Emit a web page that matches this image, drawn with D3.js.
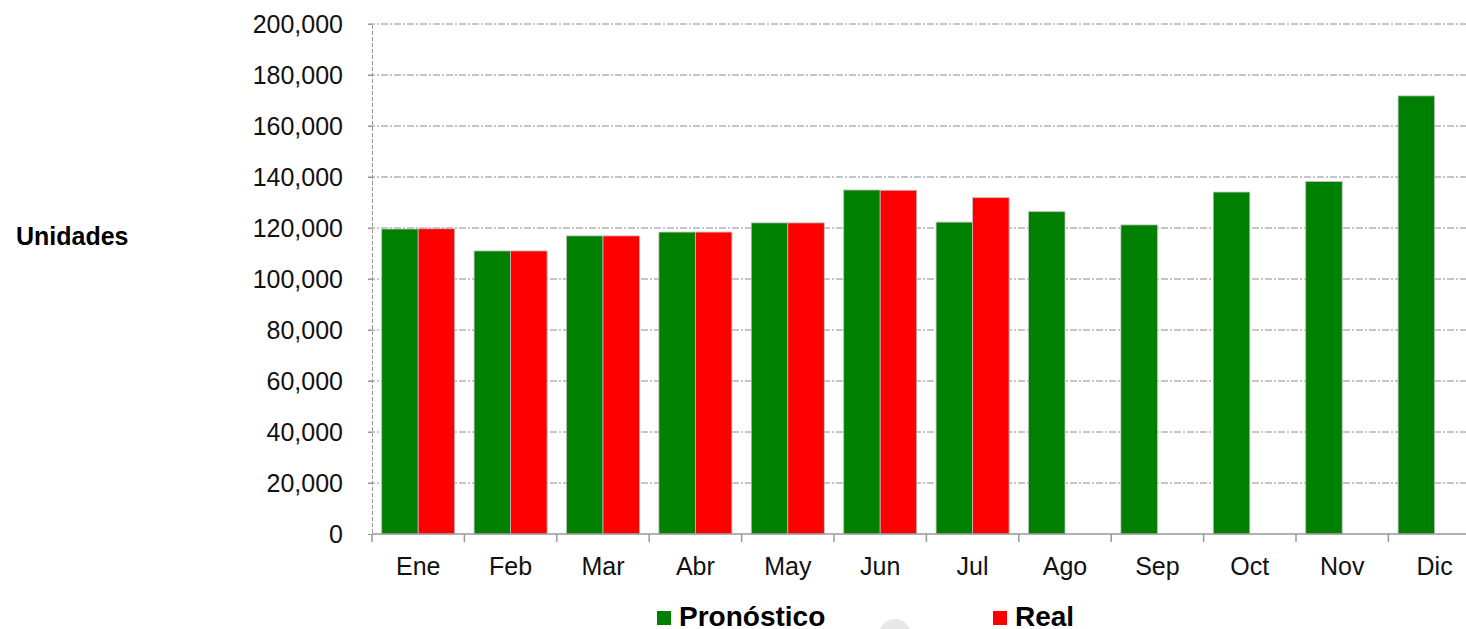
<!DOCTYPE html>
<html>
<head>
<meta charset="utf-8">
<script src="https://cdn.jsdelivr.net/npm/d3@7"></script>
<style>
  body { margin: 0; background: #fff; }
  svg { display: block; }
</style>
</head>
<body>
<div id="grafico"></div>
<script>
const meses = ['Ene', 'Feb', 'Mar', 'Abr', 'May', 'Jun', 'Jul', 'Ago', 'Sep', 'Oct', 'Nov', 'Dic'];
const pronostico = [119600, 111000, 116900, 118400, 122000, 134900, 122300, 126400, 121200, 134100, 138200, 171800];
const real = [119700, 111000, 116900, 118400, 122000, 134800, 131900, null, null, null, null, null];
const series = ['Pronóstico', 'Real'];
const colores = ['#008000', '#ff0000'];
const ticksY = [0, 20000, 40000, 60000, 80000, 100000, 120000, 140000, 160000, 180000, 200000];

const width = 1466, height = 629;
const x0 = 372, paso = 92.4;
const fuente = '"Liberation Sans", Arial, sans-serif';

const svg = d3.select('#grafico').append('svg')
  .attr('width', width)
  .attr('height', height);

const x = d3.scaleBand()
  .domain(meses)
  .range([x0, x0 + paso * meses.length])
  .paddingInner(0.21)
  .paddingOuter(0.105);

const xs = d3.scaleBand()
  .domain(series)
  .range([0, x.bandwidth()]);

const y = d3.scaleLinear()
  .domain([0, 200000])
  .range([534, 24]);

// rejilla
svg.append('g')
  .selectAll('line')
  .data(ticksY.filter(d => d > 0))
  .join('line')
  .attr('x1', x0 - 4)
  .attr('x2', width)
  .attr('y1', d => y(d))
  .attr('y2', d => y(d))
  .attr('stroke', '#8c8c8c')
  .attr('stroke-width', 1)
  .attr('stroke-dasharray', '7,2,2,2');

// eje Y
const ejeY = svg.append('g')
  .attr('transform', `translate(${x0},0)`)
  .call(d3.axisLeft(y).tickValues(ticksY).tickFormat(d3.format(',')).tickSize(4).tickPadding(25));
ejeY.select('.domain').attr('stroke', '#999').attr('stroke-dasharray', '4,2');
ejeY.selectAll('.tick line').attr('stroke', '#999');
ejeY.selectAll('text')
  .style('font-family', fuente)
  .style('font-size', '25px')
  .attr('fill', '#111');

// barras
const grupos = svg.append('g')
  .selectAll('g')
  .data(meses.map((m, i) => ({ mes: m, valores: [pronostico[i], real[i]] })))
  .join('g')
  .attr('transform', d => `translate(${x(d.mes)},0)`);

grupos.selectAll('rect')
  .data(d => d.valores.map((v, j) => ({ serie: series[j], valor: v, color: colores[j] })).filter(d => d.valor != null))
  .join('rect')
  .attr('x', d => xs(d.serie))
  .attr('width', xs.bandwidth())
  .attr('y', d => y(d.valor))
  .attr('height', d => y(0) - y(d.valor))
  .attr('fill', d => d.color)
  .attr('stroke', '#bdbdbd')
  .attr('stroke-width', 0.8);

// eje X
const ejeX = svg.append('g')
  .attr('transform', `translate(0,${y(0)})`)
  .call(d3.axisBottom(x).tickSize(0).tickPadding(23));
ejeX.select('.domain').remove();
ejeX.selectAll('text')
  .style('font-family', fuente)
  .style('font-size', '25px')
  .attr('fill', '#111');

svg.append('line')
  .attr('x1', x0).attr('x2', width)
  .attr('y1', y(0)).attr('y2', y(0))
  .attr('stroke', '#999').attr('stroke-width', 1.5);

svg.append('g')
  .selectAll('line')
  .data(d3.range(meses.length + 1).map(i => x0 + i * paso).filter(v => v < width))
  .join('line')
  .attr('x1', d => d).attr('x2', d => d)
  .attr('y1', y(0)).attr('y2', y(0) + 8)
  .attr('stroke', '#999').attr('stroke-width', 1.5);

// titulo eje
svg.append('text')
  .attr('x', 16)
  .attr('y', 245)
  .text('Unidades')
  .style('font-family', fuente)
  .style('font-weight', 'bold')
  .style('font-size', '25px')
  .attr('fill', '#000');

// adorno gris
svg.append('circle')
  .attr('cx', 895).attr('cy', 635).attr('r', 16)
  .attr('fill', '#e8e8e8');

// leyenda
const leyenda = svg.append('g');
const posLeyenda = [657, 993];
series.forEach((s, i) => {
  leyenda.append('rect')
    .attr('x', posLeyenda[i]).attr('y', 611)
    .attr('width', 14).attr('height', 14)
    .attr('fill', colores[i]);
  leyenda.append('text')
    .attr('x', posLeyenda[i] + 22)
    .attr('y', 626)
    .text(s)
    .style('font-family', fuente)
    .style('font-weight', 'bold')
    .style('font-size', '28px')
    .attr('fill', '#000');
});
</script>
</body>
</html>
